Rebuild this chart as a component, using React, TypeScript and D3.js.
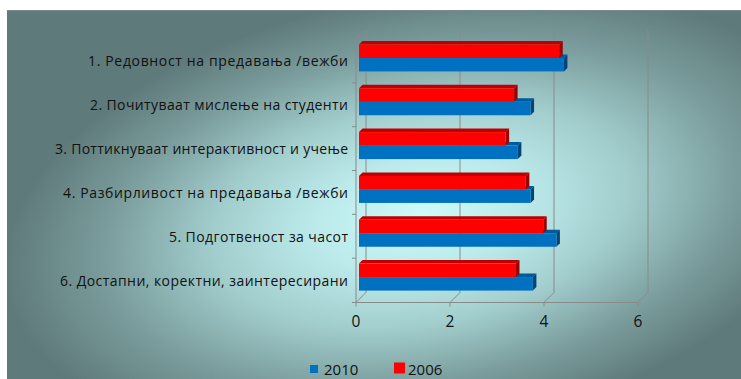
import React from 'react';
import * as d3 from 'd3';

const categories = [
  '1. Редовност на предавања /вежби',
  '2. Почитуваат мислење на студенти',
  '3. Поттикнуваат интерактивност и учење',
  '4. Разбирливост на предавања /вежби',
  '5. Подготвеност за часот',
  '6. Достапни, коректни, заинтересирани',
];
const values2010 = [4.36, 3.65, 3.38, 3.65, 4.2, 3.7];
const values2006 = [4.26, 3.3, 3.12, 3.55, 3.92, 3.34];
const xTicks = [0, 2, 4, 6];
const seriesNames = ['2010', '2006'];

// measured label widths (px) so the spaced-out Calibri look is kept
const labelWidths = [260, 258, 293, 285, 179, 288];

const W = 741;
const H = 379;
const DEPTH = 10; // back wall offset (right / up)
const BD = 3.5; // bar depth

const faces = {
  blue: { front: '#0070c0', top: '#005a9c', side: '#00457a' },
  red: { front: '#ff0000', top: '#c00000', side: '#9a0000' },
};

export default function App() {
  const x = d3.scaleLinear().domain([0, 6]).range([356, 638]);
  const y = d3.scaleBand<string>().domain(categories).range([39, 302]);
  const bw = y.bandwidth();
  const barH = 13.5;
  const zero = x(0);

  const bar = (key: string, v: number, top: number, c: { front: string; top: string; side: string }) => {
    const x0 = zero + 3;
    const x1 = x0 + (x(v) - zero);
    const h = barH;
    return (
      <g key={key}>
        <polygon
          points={`${x0},${top} ${x0 + BD},${top - BD} ${x1 + BD},${top - BD} ${x1},${top}`}
          fill={c.top}
        />
        <polygon
          points={`${x1},${top} ${x1 + BD},${top - BD} ${x1 + BD},${top + h - BD} ${x1},${top + h}`}
          fill={c.side}
        />
        <rect x={x0} y={top} width={x1 - x0} height={h} fill={c.front} />
      </g>
    );
  };

  const floorY = 302.5;
  const grid = '#8a8a8a';

  return (
    <div style={{ position: 'absolute', left: 0, top: 0 }}>
      <svg width={W} height={H} style={{ display: 'block' }}>
        <defs>
          <radialGradient
            id="bg"
            gradientUnits="userSpaceOnUse"
            cx={0}
            cy={0}
            r={1}
            gradientTransform="translate(420,215) rotate(-10) scale(420,220)"
          >
            <stop offset="0" stopColor="#cbfbfb" />
            <stop offset="0.25" stopColor="#bceaea" />
            <stop offset="0.5" stopColor="#a2cdcd" />
            <stop offset="0.75" stopColor="#7c9e9e" />
            <stop offset="1" stopColor="#5f7a7a" />
          </radialGradient>
        </defs>
        <rect x={0} y={0} width={W} height={H} fill="#ffffff" />
        <rect x={7} y={10} width={W - 7} height={H - 10} fill="url(#bg)" />
        <line x1={7} y1={10.5} x2={W} y2={10.5} stroke="#7d8a8a" strokeWidth={1} />

        {/* back wall gridlines */}
        {xTicks.map((t) => (
          <g key={`g${t}`}>
            <line x1={x(t) + DEPTH} y1={30} x2={x(t) + DEPTH} y2={floorY - DEPTH} stroke={grid} />
            <line x1={x(t) + DEPTH} y1={floorY - DEPTH} x2={x(t)} y2={floorY} stroke={grid} />
            <line x1={x(t)} y1={floorY} x2={x(t)} y2={floorY + 4} stroke={grid} />
          </g>
        ))}
        {/* left wall */}
        <line x1={zero} y1={39} x2={zero} y2={floorY} stroke={grid} />
        <line x1={zero} y1={39} x2={zero + DEPTH} y2={30} stroke={grid} />
        <line x1={zero} y1={floorY} x2={x(6)} y2={floorY} stroke={grid} />
        {categories.map((c, i) => (
          <line key={`t${i}`} x1={zero - 4} y1={(y(c) as number)} x2={zero} y2={(y(c) as number)} stroke={grid} />
        ))}
        <line x1={zero - 4} y1={floorY} x2={zero} y2={floorY} stroke={grid} />

        {/* bars */}
        {categories.map((c, i) => {
          const mid = (y(c) as number) + bw / 2 - 3;
          return (
            <g key={`b${i}`}>
              {bar(`b10-${i}`, values2010[i], mid, faces.blue)}
              {bar(`b06-${i}`, values2006[i], mid - barH, faces.red)}
            </g>
          );
        })}

        {/* category labels */}
        {categories.map((c, i) => (
          <text
            key={`l${i}`}
            x={348}
            y={(y(c) as number) + bw / 2}
            textAnchor="end"
            dominantBaseline="central"
            fontFamily="'Open Sans', sans-serif"
            fontSize={14}
            fill="#111"
            textLength={labelWidths[i]}
            lengthAdjust="spacing"
          >
            {c}
          </text>
        ))}

        {/* x tick labels */}
        {xTicks.map((t) => (
          <text
            key={`x${t}`}
            x={x(t)}
            y={321}
            textAnchor="middle"
            dominantBaseline="central"
            fontFamily="'Open Sans', sans-serif"
            fontSize={15.5}
            fill="#111"
          >
            {t}
          </text>
        ))}

        {/* legend */}
        <rect x={310} y={365} width={8} height={8} fill={faces.blue.front} />
        <text x={324} y={369} dominantBaseline="central" fontFamily="'Open Sans', sans-serif" fontSize={15} fill="#111">
          {seriesNames[0]}
        </text>
        <rect x={394} y={362.5} width={11} height={11} fill={faces.red.front} />
        <text x={408} y={369} dominantBaseline="central" fontFamily="'Open Sans', sans-serif" fontSize={15} fill="#111">
          {seriesNames[1]}
        </text>
      </svg>
    </div>
  );
}
